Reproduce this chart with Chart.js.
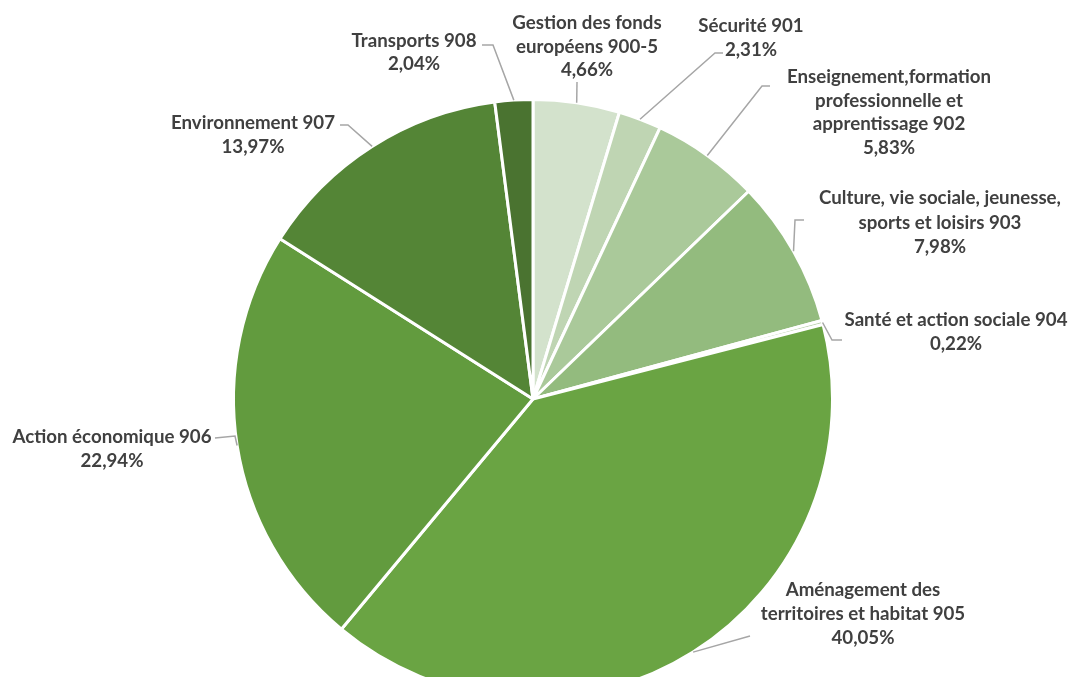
<!DOCTYPE html>
<html>
<head>
<meta charset="utf-8">
<script src="https://cdn.jsdelivr.net/npm/chart.js@4"></script>
<style>
  html, body { margin: 0; padding: 0; background: #fff; overflow: hidden; }
  #wrap { position: absolute; left: 0; top: 0; width: 1072px; height: 700px; }
</style>
</head>
<body>
<div id="wrap"><canvas id="c" width="1072" height="700"></canvas></div>
<script>
// ---- Data ----
const categories = [
  ["Gestion des fonds", "européens 900-5"],
  ["Sécurité 901"],
  ["Enseignement,formation", "professionnelle et", "apprentissage 902"],
  ["Culture, vie sociale, jeunesse,", "sports et loisirs 903"],
  ["Santé et action sociale 904"],
  ["Aménagement des", "territoires et habitat 905"],
  ["Action économique 906"],
  ["Environnement 907"],
  ["Transports 908"]
];
const percentLabels = ["4,66%", "2,31%", "5,83%", "7,98%", "0,22%", "40,05%", "22,94%", "13,97%", "2,04%"];
const values = [4.66, 2.31, 5.83, 7.98, 0.22, 40.05, 22.94, 13.97, 2.04];
const colors = ["#d3e2cc", "#bfd5b3", "#aac99a", "#93bb7e", "#b9d2ab", "#6aa443", "#629b3e", "#548536", "#4a7330"];

// ---- Layout of labels (center x, first line center y, line spacing) and leader path ----
const labelLayout = [
  { x: 587, y: 23, lh: 23.5, path: [[577, 82]] },
  { x: 751, y: 26, lh: 24, path: [[715, 53], [723, 53]] },
  { x: 889, y: 77, lh: 23.5, path: [[762, 86], [770, 86]] },
  { x: 940, y: 198, lh: 24.5, path: [[795, 220], [804, 220]] },
  { x: 956, y: 320, lh: 23.5, path: [[832, 340], [842, 340]] },
  { x: 863, y: 590, lh: 24, path: [[750, 636]] },
  { x: 112, y: 437, lh: 24, path: [[235, 436], [215, 438]] },
  { x: 253, y: 123, lh: 24, path: [[348, 125], [340, 125]] },
  { x: 414, y: 41, lh: 23, path: [[493, 45], [482, 45]] }
];

const labelPlugin = {
  id: 'excelLabels',
  afterDatasetsDraw(chart) {
    const ctx = chart.ctx;
    const meta = chart.getDatasetMeta(0);
    ctx.save();
    ctx.font = "bold 17px Lato";
    const w = ctx.measureText("Action économique 906").width;
    const fs = 17 * 199 / w;
    ctx.strokeStyle = "#a6a6a6";
    ctx.lineWidth = 1.5;
    meta.data.forEach((arc, i) => {
      const p = arc.getProps(['x', 'y', 'startAngle', 'endAngle', 'outerRadius'], true);
      const mid = (p.startAngle + p.endAngle) / 2;
      const sx = p.x + Math.cos(mid) * p.outerRadius;
      const sy = p.y + Math.sin(mid) * p.outerRadius;
      ctx.beginPath();
      ctx.moveTo(sx, sy);
      labelLayout[i].path.forEach(pt => ctx.lineTo(pt[0], pt[1]));
      ctx.stroke();
    });
    ctx.fillStyle = "#404040";
    ctx.font = "bold " + fs.toFixed(2) + "px Lato";
    ctx.textAlign = "center";
    ctx.textBaseline = "middle";
    categories.forEach((lines, i) => {
      const L = labelLayout[i];
      const all = lines.concat([percentLabels[i]]);
      all.forEach((t, k) => ctx.fillText(t, L.x, L.y + k * L.lh));
    });
    ctx.restore();
  }
};

new Chart(document.getElementById('c'), {
  type: 'pie',
  data: {
    labels: categories.map(c => c.join(' ')),
    datasets: [{
      data: values,
      backgroundColor: colors,
      borderColor: '#ffffff',
      borderWidth: 3
    }]
  },
  options: {
    responsive: false,
    animation: false,
    layout: { padding: { top: 98, bottom: 0, left: 0, right: 6 } },
    plugins: {
      legend: { display: false },
      tooltip: { enabled: false }
    }
  },
  plugins: [labelPlugin]
});
</script>
</body>
</html>
